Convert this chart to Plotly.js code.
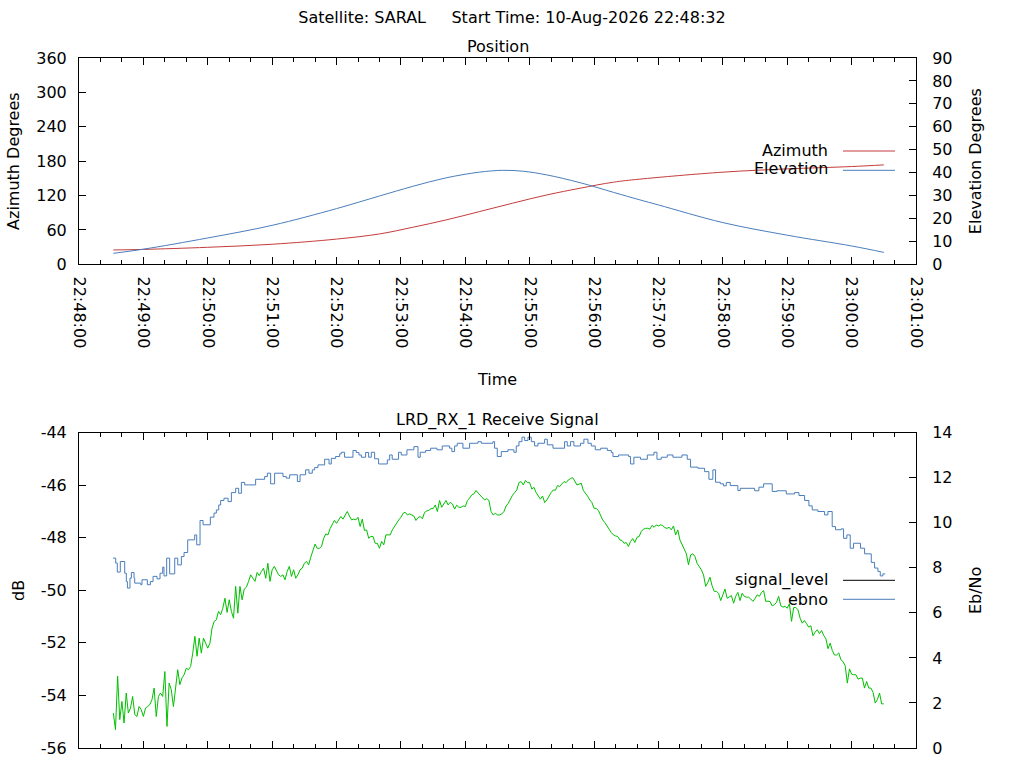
<!DOCTYPE html>
<html><head><meta charset="utf-8">
<script src="https://cdn.plot.ly/plotly-3.0.1.min.js"></script>
<style>html,body{margin:0;padding:0;background:#fff}#chart{width:1024px;height:768px}</style>
</head><body><div id="chart"></div>
<script>
// ---------- DATA (seconds after 22:48:00 on 10-Aug-2026) ----------
const passDate = "2026-08-10";
const mainTitle = "Satellite: SARAL\u00a0\u00a0\u00a0\u00a0\u00a0Start Time: 10-Aug-2026 22:48:32";

const azSec = [32, 60, 120, 180, 240, 280, 311, 342, 373, 404, 436, 467, 498, 522, 600, 660, 720, 750];
const azDeg = [25, 26, 29.7, 35, 44, 53, 64.6, 77.4, 91.9, 106.6, 121.1, 132.8, 143.3, 148.5, 160.8, 166.5, 170.6, 173.5];

const elSec = [32, 60, 120, 180, 240, 280, 311, 342, 373, 395, 414, 436, 467, 498, 522, 540, 600, 660, 720, 750];
const elDeg = [4.8, 6.6, 11.5, 17, 24.3, 29.8, 34.0, 37.7, 40.2, 41.0, 40.6, 39.0, 35.6, 31.4, 28.2, 25.9, 18.2, 12.7, 8, 5.2];

// signal_level (dB), one reading every 2 s starting at 32 s
const signalStartSec = 32;
const signalStepSec = 2;
const signalDb = [
-54.67,-55.30,-53.27,-54.92,-54.23,-55.05,-53.91,-54.67,-54.48,-54.04,
-54.73,-54.80,-54.42,-54.54,-54.80,-54.48,-54.42,-54.35,-54.16,-53.72,
-54.80,-54.04,-53.91,-54.04,-53.09,-55.18,-53.53,-53.78,-54.42,-53.66,
-53.02,-53.59,-53.33,-53.21,-52.96,-53.02,-52.90,-52.39,-51.75,-52.51,
-51.82,-52.39,-51.82,-52.01,-52.20,-52.01,-51.44,-51.18,-51.12,-50.80,
-50.93,-50.68,-50.30,-50.84,-50.36,-50.80,-51.06,-49.85,-50.87,-49.85,
-50.36,-49.95,-49.88,-49.66,-49.41,-49.54,-49.66,-49.32,-49.44,-49.28,
-49.16,-49.54,-48.97,-49.66,-49.22,-49.09,-49.28,-49.41,-49.47,-49.41,
-49.60,-49.28,-49.09,-49.47,-49.22,-49.54,-49.41,-49.22,-49.16,
-48.97,-48.90,-49.03,-48.74,-48.46,-48.24,-48.40,-48.40,-48.33,-48.02,
-47.85,-47.89,-47.65,-47.47,-47.34,-47.45,-47.32,-47.19,-47.29,-47.17,
-47.00,-47.17,-47.32,-47.29,-47.32,-47.22,-47.57,-47.29,-47.72,-47.70,
-48.02,-47.95,-47.95,-48.21,-48.21,-48.40,-48.14,-48.27,-47.89,-47.89,
-47.89,-47.70,-47.57,-47.42,-47.32,-47.22,-47.07,-47.03,-47.13,-47.09,
-47.14,-47.17,-47.34,-47.23,-47.19,-47.28,-47.04,-46.98,-46.96,-46.89,
-46.89,-46.75,-47.00,-46.58,-46.84,-46.71,-46.58,-46.75,-46.65,-46.71,
-46.91,-46.76,-46.84,-46.84,-46.79,-46.81,-46.58,-46.49,-46.37,-46.33,
-46.20,-46.30,-46.39,-46.47,-46.56,-46.51,-46.58,-47.00,-47.13,-47.07,
-47.13,
-47.13,-47.09,-47.00,-46.79,-46.69,-46.51,-46.38,-46.28,-46.18,-45.90,
-45.86,-45.99,-45.82,-45.90,-45.90,-46.15,-46.08,-46.28,-46.42,-46.53,
-46.41,-46.66,-46.56,-46.41,-46.28,-46.18,-46.19,-46.01,-46.05,-45.95,
-45.86,-45.90,-45.80,-45.75,-45.71,-45.84,-45.99,-45.96,-45.92,-46.20,
-46.30,-46.42,-46.56,-46.66,-46.88,-46.88,-46.96,-47.17,-47.32,-47.42,
-47.57,-47.67,-47.80,-47.89,-47.93,-47.95,-48.08,-48.10,-48.21,-48.18,
-48.33,-48.14,-48.03,-48.18,-47.98,-47.95,-47.76,-47.67,-47.64,-47.64,
-47.67,-47.53,-47.60,-47.51,-47.55,-47.51,-47.53,-47.62,-47.64,-47.60,
-47.70,-47.55,-47.89,-47.70,-48.08,-48.27,-48.43,-48.61,-49.03,-48.65,
-48.61,
-48.71,-48.97,-49.09,-49.22,-49.41,-49.85,-49.70,-49.50,-49.83,-50.04,
-50.04,-50.11,-50.39,-50.17,-49.95,-50.30,-50.26,-50.20,-50.49,-50.23,
-50.08,-50.39,-50.11,-50.23,-50.26,-50.26,-50.33,-50.42,-50.31,-50.17,
-50.23,-50.08,-50.01,-50.42,-50.41,-50.43,-50.59,-50.55,-50.46,-50.23,
-50.59,-50.64,-50.61,-50.68,-50.51,-51.18,-50.66,-50.65,-50.74,-51.06,
-51.25,-51.15,-51.27,-51.40,-51.35,-51.73,-51.59,-51.50,-51.65,-51.53,
-51.72,-51.84,-52.22,-52.01,-52.29,-52.46,-52.46,-52.38,-52.64,-52.71,
-52.87,-53.53,-52.99,-53.19,-53.21,-53.21,-53.38,-53.34,-53.34,-53.72,
-53.47,-53.72,-53.72,-53.88,-54.29,-54.16,-53.91,-54.32,-54.32
];

// ebno (Eb/No), step changes
const ebnoSec = [31.7,34.2,35.7,38.5,42.6,44.1,45.1,47.5,48.8,51.3,51.9,57.5,58.7,63.7,66.5,69.0,72.7,75.5,78.0,79.2,
81.7,84.5,89.2,92.0,95.4,97.9,101.3,107.8,109.7,112.8,115.6,122.4,125.8,128.0,130.2,132.0,135.1,138.9,142.0,146.0,
148.8,151.3,154.4,164.6,173.0,175.5,178.6,182.3,190.1,193.2,196.3,203.5,206.0,211.2,214.3,217.4,219.6,222.7,228.9,233.0,
235.1,239.1,242.9,244.4,247.5,255.3,258.4,260.9,263.1,267.1,269.9,272.4,275.5,279.2,287.3,289.5,291.9,297.8,300.3,305.6,
312.1,315.9,318.0,323.0,327.7,333.6,338.5,345.4,347.5,350.0,352.5,357.8,364.0,371.8,374.9,385.7,387.3,389.8,393.5,399.7,
405.3,407.5,410.0,412.8,415.3,418.4,421.5,424.6,427.7,433.9,436.4,441.7,452.5,455.0,458.1,461.2,467.4,470.5,474.3,477.4,
481.1,486.1,492.3,496.0,497.6,502.8,512.2,514.0,517.1,523.3,529.6,535.8,538.6,542.6,548.2,553.5,561.9,566.8,569.9,576.8,
583.0,587.0,590.7,593.2,597.6,600.7,603.2,606.9,614.0,616.2,629.6,633.6,638.0,646.0,650.4,659.1,666.8,670.9,676.2,680.2,
683.3,688.6,694.8,697.9,701.9,705.0,710.3,712.5,715.6,718.7,721.8,728.3,732.1,738.3,741.4,744.5,746.7,749.1,751.3];
const ebnoVal = [8.43,8.21,7.81,8.28,7.76,7.39,7.10,7.54,7.79,7.54,7.32,7.25,7.47,7.25,7.39,7.62,7.51,7.76,8.03,7.64,
8.43,7.73,8.43,8.13,8.50,8.68,9.24,9.46,9.02,10.10,9.91,10.25,10.43,10.57,10.79,10.99,11.09,10.94,11.34,11.53,
11.31,11.79,11.68,11.93,12.05,12.20,11.73,12.20,12.05,11.98,12.13,11.83,12.13,12.35,12.20,12.35,12.45,12.57,12.82,12.61,
12.86,12.94,13.06,13.13,12.91,13.21,13.12,13.01,12.91,13.12,12.91,13.13,12.84,12.61,12.79,13.01,12.82,13.13,13.01,13.24,
13.38,12.91,13.13,13.21,13.31,13.24,13.41,13.31,13.16,13.41,13.53,13.31,13.53,13.60,13.53,13.60,13.31,12.94,13.16,13.24,
13.13,13.41,13.60,13.80,13.65,13.80,13.60,13.41,13.53,13.71,13.46,13.31,13.60,13.41,13.60,13.41,13.53,13.71,13.53,13.41,
13.24,13.31,13.21,13.12,12.94,13.01,12.94,12.61,12.91,12.82,13.01,13.13,12.82,12.91,13.01,12.91,13.01,12.82,12.47,12.42,
12.27,11.93,12.35,11.80,11.73,11.64,11.79,11.65,11.43,11.53,11.42,11.58,11.73,11.39,11.42,11.28,11.34,11.21,10.99,10.75,
10.57,10.50,10.35,10.50,9.83,9.69,9.73,9.31,9.46,8.87,9.09,8.87,8.62,8.24,7.99,7.84,7.64,7.73,7.73];

const azTicks = [0, 60, 120, 180, 240, 300, 360];
const elTicks = [0, 10, 20, 30, 40, 50, 60, 70, 80, 90];
const dbTicks = [-56, -54, -52, -50, -48, -46, -44];
const ebnoTicks = [0, 2, 4, 6, 8, 10, 12, 14];
const timeRange = ["22:48:00", "23:01:00"];

// ---------- helpers ----------
const baseMs = Date.UTC(2026, 7, 10, 22, 48, 0);
function toTime(sec) {
  return new Date(baseMs + Math.round(sec * 1000)).toISOString().replace('T', ' ').replace('Z', '');
}
const signalSec = signalDb.map((_, i) => signalStartSec + i * signalStepSec);

const FONT = "DejaVu Sans";
const FS = 16;
const RED = "#c43c3c", BLUE = "#4a7ebb", GREEN = "#00c000";

const traces = [
  {x: azSec.map(toTime), y: azDeg, xaxis: 'x', yaxis: 'y', mode: 'lines', name: 'Azimuth',
   line: {color: RED, width: 1, shape: 'spline', smoothing: 1}},
  {x: elSec.map(toTime), y: elDeg, xaxis: 'x', yaxis: 'y2', mode: 'lines', name: 'Elevation',
   line: {color: BLUE, width: 1, shape: 'spline', smoothing: 1}},
  {x: signalSec.map(toTime), y: signalDb, xaxis: 'x2', yaxis: 'y3', mode: 'lines', name: 'signal_level',
   line: {color: GREEN, width: 1}},
  {x: ebnoSec.map(toTime), y: ebnoVal, xaxis: 'x2', yaxis: 'y4', mode: 'lines', name: 'ebno',
   line: {color: BLUE, width: 1, shape: 'hv'}}
];

const tickFont = {family: FONT, size: FS, color: '#000'};
const titleFont = {family: FONT, size: FS, color: '#000'};
const xr = [passDate + ' ' + timeRange[0], passDate + ' ' + timeRange[1]];

function xAxis(extra) {
  return Object.assign({
    type: 'date', range: xr, dtick: 60000, tick0: xr[0], tickformat: '%H:%M:%S',
    ticks: 'inside', ticklen: 7, tickwidth: 1, tickcolor: '#000',
    minor: {dtick: 20000, ticks: 'inside', ticklen: 4, tickwidth: 1, tickcolor: '#000', showgrid: false},
    showline: true, linecolor: '#000', linewidth: 1, mirror: 'ticks',
    showgrid: false, zeroline: false, tickfont: tickFont, automargin: false, fixedrange: true
  }, extra);
}
function yAxis(extra) {
  return Object.assign({
    ticks: 'inside', ticklen: 7, tickwidth: 1, tickcolor: '#000',
    showline: true, linecolor: '#000', linewidth: 1,
    showgrid: false, zeroline: false, tickfont: tickFont, automargin: false, fixedrange: true,
    ticklabelstandoff: 8
  }, extra);
}

const topDom = [0.701, 1];
const botDom = [0, 0.457];

const layout = {
  width: 1024, height: 768,
  margin: {l: 79, r: 108, t: 58, b: 20},
  paper_bgcolor: '#fff', plot_bgcolor: '#fff',
  showlegend: false,
  font: {family: FONT, size: FS, color: '#000'},
  title: {text: mainTitle, font: titleFont, x: 0.5, xref: 'container', xanchor: 'center',
          y: 1 - 17 / 768, yref: 'container', yanchor: 'middle'},
  xaxis: xAxis({anchor: 'y', domain: [0, 1], tickangle: 90, ticklabelstandoff: 8,
                title: {text: 'Time', font: titleFont, standoff: 26}}),
  yaxis: yAxis({anchor: 'x', domain: topDom, range: [0, 360], tickvals: azTicks, mirror: true,
                title: {text: 'Azimuth Degrees', font: titleFont, standoff: 12}}),
  yaxis2: yAxis({anchor: 'x', overlaying: 'y', side: 'right', range: [0, 90], tickvals: elTicks,
                 ticklabelstandoff: 12,
                 title: {text: 'Elevation Degrees', font: titleFont, standoff: 18}}),
  xaxis2: xAxis({anchor: 'y3', domain: [0, 1], showticklabels: false}),
  yaxis3: yAxis({anchor: 'x2', domain: botDom, range: [-56, -44], tickvals: dbTicks,
                 ticktext: dbTicks.map(v => String(v)), mirror: true,
                 title: {text: 'dB', font: titleFont, standoff: 12}}),
  yaxis4: yAxis({anchor: 'x2', overlaying: 'y3', side: 'right', range: [0, 14], tickvals: ebnoTicks,
                 ticklabelstandoff: 12,
                 title: {text: 'Eb/No', font: titleFont, standoff: 18}}),
  annotations: [
    {text: 'Position', xref: 'paper', yref: 'paper', x: 0.5, y: (748 - 46) / 690, xanchor: 'center', yanchor: 'middle', showarrow: false, font: titleFont},
    {text: 'LRD_RX_1 Receive Signal', xref: 'paper', yref: 'paper', x: 0.5, y: (748 - 420) / 690, xanchor: 'center', yanchor: 'middle', showarrow: false, font: titleFont},
    {text: 'Azimuth', xref: 'paper', yref: 'paper', x: (830 - 79) / 837, y: (748 - 150) / 690, xanchor: 'right', yanchor: 'middle', showarrow: false, font: titleFont},
    {text: 'Elevation', xref: 'paper', yref: 'paper', x: (830 - 79) / 837, y: (748 - 169) / 690, xanchor: 'right', yanchor: 'middle', showarrow: false, font: titleFont},
    {text: 'signal_level', xref: 'paper', yref: 'paper', x: (830 - 79) / 837, y: (748 - 580) / 690, xanchor: 'right', yanchor: 'middle', showarrow: false, font: titleFont},
    {text: 'ebno', xref: 'paper', yref: 'paper', x: (830 - 79) / 837, y: (748 - 599) / 690, xanchor: 'right', yanchor: 'middle', showarrow: false, font: titleFont}
  ],
  shapes: [
    {type: 'line', xref: 'paper', yref: 'paper', x0: (843 - 79) / 837, x1: (895 - 79) / 837, y0: (748 - 151) / 690, y1: (748 - 151) / 690, line: {color: RED, width: 1}},
    {type: 'line', xref: 'paper', yref: 'paper', x0: (843 - 79) / 837, x1: (895 - 79) / 837, y0: (748 - 170.3) / 690, y1: (748 - 170.3) / 690, line: {color: BLUE, width: 1}},
    {type: 'line', xref: 'paper', yref: 'paper', x0: (843 - 79) / 837, x1: (895 - 79) / 837, y0: (748 - 580.3) / 690, y1: (748 - 580.3) / 690, line: {color: '#000', width: 1}},
    {type: 'line', xref: 'paper', yref: 'paper', x0: (843 - 79) / 837, x1: (895 - 79) / 837, y0: (748 - 599.3) / 690, y1: (748 - 599.3) / 690, line: {color: BLUE, width: 1}}
  ]
};

Plotly.newPlot('chart', traces, layout, {staticPlot: true, displayModeBar: false});
</script></body></html>
